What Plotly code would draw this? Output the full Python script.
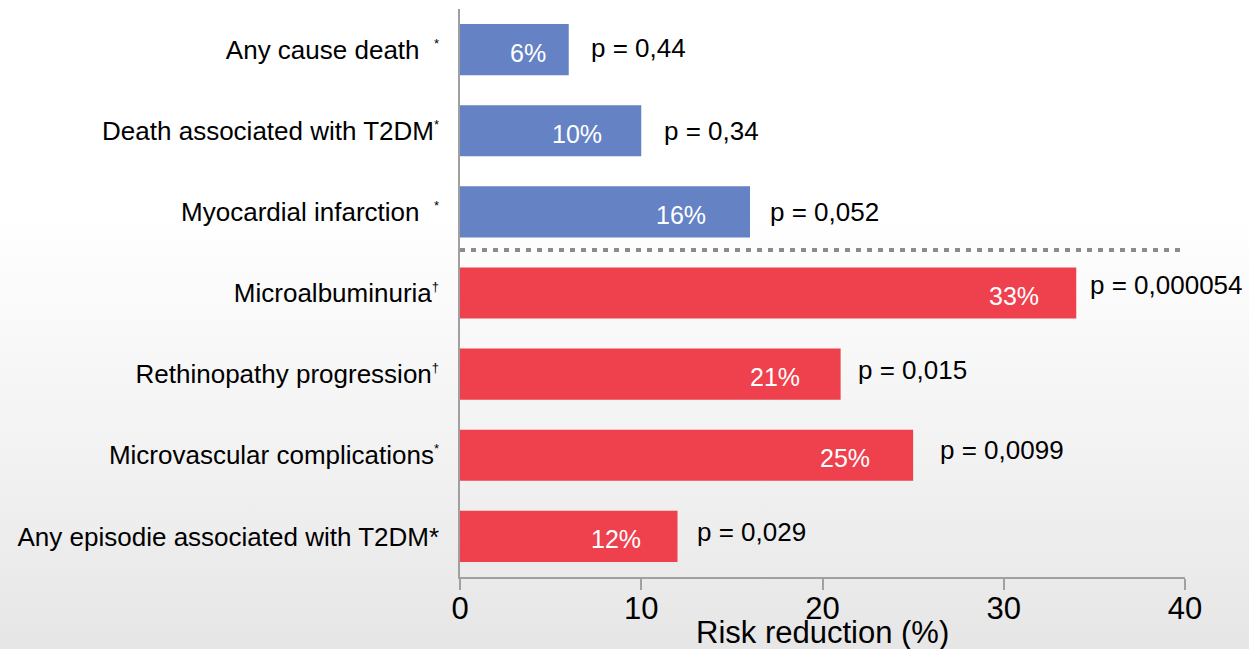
import base64
import plotly.graph_objects as go

# ---------------- data ----------------
SUP = "<sup><span style='font-size:13px'>{}</span></sup>"
NB = "\u00a0"
categories = [
    "Any cause death" + NB * 2 + SUP.format("*"),
    "Death associated with T2DM" + SUP.format("*"),
    "Myocardial infarction" + NB * 2 + SUP.format("*"),
    "Microalbuminuria" + SUP.format("†"),
    "Rethinopathy progression" + SUP.format("†"),
    "Microvascular complications" + SUP.format("*"),
    "Any episodie associated with T2DM*",
]
values = [6, 10, 16, 34, 21, 25, 12]
pct_labels = ["6%", "10%", "16%", "33%", "21%", "25%", "12%"]
p_labels = ["p = 0,44", "p = 0,34", "p = 0,052", "p = 0,000054",
            "p = 0,015", "p = 0,0099", "p = 0,029"]
groups = ["macro", "macro", "macro", "micro", "micro", "micro", "micro"]
x_ticks = [0, 10, 20, 30, 40]
separator_after = 2  # dotted line between category index 2 and 3

# ---------------- style ----------------
COLORS = {"macro": "#6482C4", "micro": "#EF404D"}
FONT = "Liberation Sans, Arial, sans-serif"
pct_shift = [-21, -37, -42, -35, -39, -41, -35]
p_shift = [20, 21, 18, 12, 15, 25, 17]
p_yshift = [2, 0, 0, 8, 4, 5, 4]

W, H = 1249, 649
L, R, T, B = 460, 64, 9, 72

fig = go.Figure()
fig.add_trace(go.Bar(
    y=categories, x=values, orientation="h",
    marker=dict(color=[COLORS[g] for g in groups], line=dict(width=0)),
    width=0.63, hoverinfo="x+y", showlegend=False,
))

annotations = []
for i, (cat, v) in enumerate(zip(categories, values)):
    annotations.append(dict(
        x=v, y=cat, xref="x", yref="y", text=pct_labels[i], showarrow=False,
        xanchor="right", yanchor="middle", xshift=pct_shift[i], yshift=-3,
        font=dict(family=FONT, size=25, color="white")))
    annotations.append(dict(
        x=v, y=cat, xref="x", yref="y", text=p_labels[i], showarrow=False,
        xanchor="left", yanchor="middle", xshift=p_shift[i], yshift=p_yshift[i],
        font=dict(family=FONT, size=26, color="black")))

annotations.append(dict(
    x=20, y=0, xref="x", yref="paper", text="Risk reduction (%)",
    showarrow=False, xanchor="center", yanchor="middle", yshift=-55,
    font=dict(family=FONT, size=31, color="black")))

# dotted separator line
fig.add_shape(type="line", xref="x", yref="y",
              x0=0, x1=40, y0=separator_after + 0.47, y1=separator_after + 0.47,
              line=dict(color="#8c8c8c", width=4, dash="5px,6px"), layer="above")

# background gradient as svg image
svg = f"""<svg xmlns='http://www.w3.org/2000/svg' width='{W}' height='{H}'>
<defs><linearGradient id='g' x1='0' y1='0' x2='0' y2='1'>
<stop offset='0' stop-color='#ffffff'/>
<stop offset='0.33' stop-color='#ffffff'/>
<stop offset='0.7' stop-color='#f2f2f2'/>
<stop offset='1' stop-color='#e6e6e6'/>
</linearGradient></defs>
<rect width='{W}' height='{H}' fill='url(#g)'/></svg>"""
src = "data:image/svg+xml;base64," + base64.b64encode(svg.encode()).decode()
pw, ph = W - L - R, H - T - B

fig.update_layout(
    width=W, height=H,
    margin=dict(l=L, r=R, t=T, b=B, pad=0),
    paper_bgcolor="white", plot_bgcolor="rgba(0,0,0,0)",
    font=dict(family=FONT, color="black"),
    annotations=annotations,
    images=[dict(source=src, xref="paper", yref="paper",
                 x=-L / pw, y=1 + T / ph, sizex=W / pw, sizey=H / ph,
                 xanchor="left", yanchor="top", sizing="stretch",
                 layer="below")],
    xaxis=dict(range=[0, 40], tickvals=x_ticks, ticks="outside", ticklen=11,
               tickcolor="#a0a0a0", tickwidth=1.5, showline=True,
               linecolor="#a0a0a0", linewidth=1.5, showgrid=False,
               zeroline=False, tickfont=dict(family=FONT, size=31),
               ticklabelstandoff=-8, fixedrange=True),
    yaxis=dict(type="category", categoryorder="array", categoryarray=categories,
               range=[6.5, -0.5], showline=True, linecolor="#a0a0a0",
               linewidth=1.5, showgrid=False, zeroline=False, ticks="",
               ticklabelstandoff=14, tickfont=dict(family=FONT, size=26),
               fixedrange=True),
    bargap=0.37,
)

fig.write_html(
    "out.html",
    config={"displayModeBar": False},
    post_script="document.body.style.margin='0';document.body.style.overflow='hidden';",
)
